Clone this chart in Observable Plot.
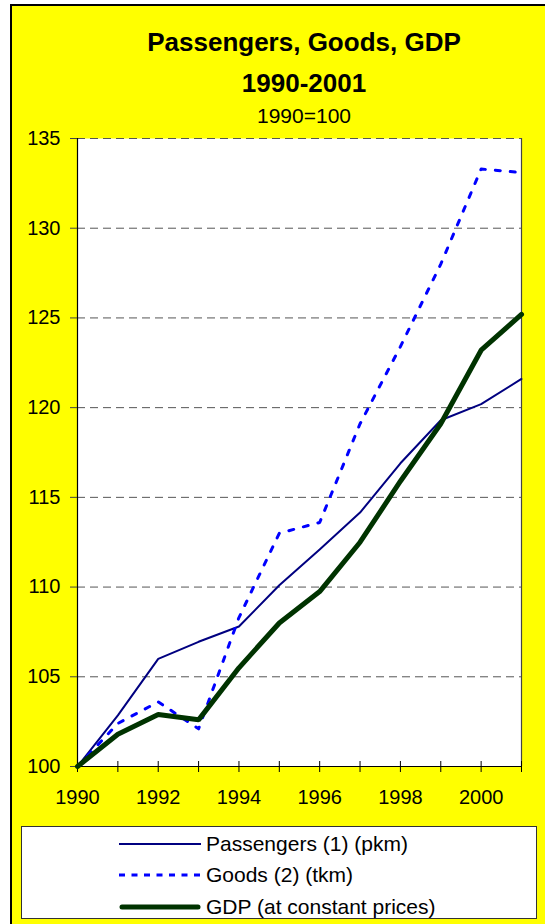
<!DOCTYPE html>
<html>
<head>
<meta charset="utf-8">
<script src="https://cdn.jsdelivr.net/npm/d3@7"></script>
<script src="https://cdn.jsdelivr.net/npm/@observablehq/plot@0.6"></script>
<style>
  html, body { margin: 0; padding: 0; background: #fff; overflow: hidden; width: 545px; height: 924px; }
  body { position: relative; font-family: "Liberation Sans", Arial, sans-serif; }
  #area { position: absolute; left: 10px; top: 4px; width: 620px; height: 1000px; background: #FFFF00; border-left: 2px solid #000; border-top: 2px solid #000; }
  .t { position: absolute; left: 0; width: 608px; text-align: center; color: #000; white-space: nowrap; }
  #chart { position: absolute; left: 0; top: 128px; }
  #legend { position: absolute; left: 21px; top: 826px; width: 514px; height: 91px; background: #fff; border: 1px solid #333; }
  .row { position: absolute; left: 0; height: 31px; display: flex; align-items: center; font-size: 21px; color: #000; white-space: nowrap; }
  .row svg { margin-left: 97px; margin-right: 5px; }
</style>
</head>
<body>
<div id="area"></div>
<div class="t" style="top:29px;font-size:26px;line-height:26px;font-weight:bold;">Passengers, Goods, GDP</div>
<div class="t" style="top:70px;font-size:26px;line-height:26px;font-weight:bold;">1990-2001</div>
<div class="t" style="top:105px;font-size:21px;line-height:21px;">1990=100</div>
<div id="chart"></div>
<div id="legend"></div>
<script>
const years = [1990, 1991, 1992, 1993, 1994, 1995, 1996, 1997, 1998, 1999, 2000, 2001];
const passengers = [100, 102.85, 106.0, 106.95, 107.8, 110.1, 112.1, 114.15, 116.9, 119.3, 120.2, 121.6];
const goods = [100, 102.4, 103.6, 102.1, 108.3, 113.0, 113.6, 119.1, 123.4, 128.0, 133.3, 133.1];
const gdp = [100, 101.8, 102.9, 102.6, 105.5, 108.0, 109.75, 112.5, 115.9, 119.1, 123.2, 125.2];
const yTicks = [100, 105, 110, 115, 120, 125, 130, 135];
const xTickLabels = [1990, 1992, 1994, 1996, 1998, 2000];
const seriesNames = ["Passengers (1) (pkm)", "Goods (2) (tkm)", "GDP (at constant prices)"];

const rows = (vals) => years.map((year, i) => ({year, value: vals[i]}));

const chart = Plot.plot({
  width: 545,
  height: 690,
  marginLeft: 77,
  marginRight: 24,
  marginTop: 10,
  marginBottom: 52,
  x: {domain: [years[0], years[years.length - 1]], label: null},
  y: {domain: [yTicks[0], yTicks[yTicks.length - 1]], label: null},
  style: {background: "transparent", fontFamily: "'Liberation Sans', Arial, sans-serif", fontSize: "20px", color: "#000", overflow: "visible"},
  marks: [
    Plot.frame({fill: "white", stroke: null}),
    Plot.ruleY(yTicks.slice(1), {y: d => d, stroke: "#555", strokeDasharray: "8,5", strokeWidth: 1}),
    Plot.ruleX([years[0]], {x: d => d, stroke: "#000", strokeWidth: 1.2}),
    Plot.ruleX([years[years.length - 1]], {x: d => d, stroke: "#444", strokeWidth: 1.2}),
    Plot.ruleY([yTicks[0]], {y: d => d, stroke: "#000", strokeWidth: 1.2}),
    Plot.ruleX(years, {x: d => d, y1: yTicks[0], y2: yTicks[0], insetTop: -5, insetBottom: -6, stroke: "#000"}),
    Plot.axisY({ticks: yTicks, tickSize: 7, tickPadding: 10, tickFormat: d => String(d), fontSize: 20, stroke: "#444"}),
    Plot.axisX({ticks: xTickLabels, tickSize: 0, tickPadding: 23, tickFormat: d => String(d), fontSize: 20}),
    Plot.line(rows(passengers), {x: "year", y: "value", stroke: "#000080", strokeWidth: 2}),
    Plot.line(rows(goods), {x: "year", y: "value", stroke: "#0000FF", strokeWidth: 3, strokeDasharray: "5,10"}),
    Plot.line(rows(gdp), {x: "year", y: "value", stroke: "#003300", strokeWidth: 5, strokeLinejoin: "miter"})
  ]
});
document.getElementById("chart").appendChild(chart);

const legendStyles = [
  {stroke: "#000080", width: 2, dash: null, cap: "butt"},
  {stroke: "#0000FF", width: 3, dash: "6,6.5", cap: "butt"},
  {stroke: "#003300", width: 5, dash: null, cap: "round"}
];
const legend = document.getElementById("legend");
seriesNames.forEach((name, i) => {
  const s = legendStyles[i];
  const row = document.createElement("div");
  row.className = "row";
  row.style.top = (1 + i * 31.5) + "px";
  row.innerHTML = `<svg width="82" height="12"><line x1="${s.cap === "round" ? 3 : 0}" y1="6" x2="${s.cap === "round" ? 79 : 82}" y2="6" stroke="${s.stroke}" stroke-width="${s.width}" ${s.dash ? `stroke-dasharray="${s.dash}"` : ""} stroke-linecap="${s.cap}"/></svg><span>${name}</span>`;
  legend.appendChild(row);
});
</script>
</body>
</html>
